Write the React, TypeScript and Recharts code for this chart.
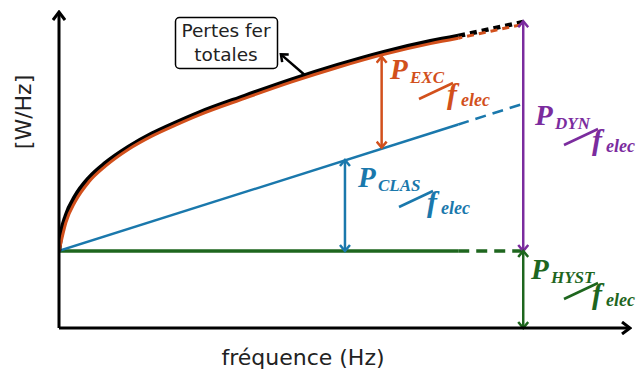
import { LineChart, Line, XAxis, YAxis, ReferenceLine } from 'recharts';

const ORANGE = '#D2501C';
const BLUE = '#1A78AC';
const GREEN = '#1E661E';
const PURPLE = '#7B2C9E';

// frequency (arbitrary units, 10 = end of the measured range) vs losses per cycle
const freq = [0, 0.05, 0.15, 0.35, 0.65, 1, 1.5, 2, 2.5, 3, 4, 5, 6, 7, 8, 8.6];
const totalLoss = [1.0, 1.24, 1.46, 1.71, 1.95, 2.14, 2.35, 2.52, 2.66, 2.79, 3.01, 3.22, 3.41, 3.58, 3.72, 3.79];
const excessLoss = [1.0, 1.13, 1.37, 1.64, 1.9, 2.1, 2.32, 2.49, 2.63, 2.76, 2.98, 3.19, 3.38, 3.55, 3.69, 3.76];
const freqExt = [8.6, 9.3, 10];
const totalExt = [3.79, 3.88, 3.97];
const excessExt = [3.76, 3.85, 3.94];

const linFreq = [0, 8.6];
const linFreqExt = [8.6, 10];
const classicalLoss = [1.0, 2.64];
const classicalExt = [2.64, 2.91];
const hystLoss = [1.0, 1.0];
const hystExt = [1.0, 1.0];

// double arrows: position, lower end, upper end
const arrowFreq = [6.95, 6.16, 10, 10];
const arrowLow = [2.34, 1.0, 1.0, 0];
const arrowHigh = [3.52, 2.18, 3.98, 1.0];
const arrowColor = [ORANGE, BLUE, PURPLE, GREEN];

// leader from the total curve to the "Pertes fer totales" box
const leaderFreq = [5.3, 4.78];
const leaderLoss = [3.28, 3.55];

const X_MAX = 12.3;
const Y_MAX = 4.1;

const rows = (xs: number[], ys: number[]) => xs.map((f, i) => ({ f, v: ys[i] }));

const mid = (c: string) => `head-${c.slice(1)}`;

const arrowShape = (color: string, width: number, both: boolean) => (p: any) => (
  <line
    x1={p.x1}
    y1={p.y1}
    x2={p.x2}
    y2={p.y2}
    stroke={color}
    strokeWidth={width}
    markerEnd={`url(#${mid(color)})`}
    markerStart={both ? `url(#${mid(color)})` : undefined}
  />
);

function Head({ color, big }: { color: string; big?: boolean }) {
  const w = big ? 12 : 10;
  const h = big ? 14 : 12;
  return (
    <marker
      id={mid(color)}
      viewBox={`0 0 ${w} ${h}`}
      refX={w - 2}
      refY={h / 2}
      markerWidth={w}
      markerHeight={h}
      markerUnits="userSpaceOnUse"
      orient="auto-start-reverse"
    >
      <path
        d={`M2,1 L${w - 2},${h / 2} L2,${h - 1}`}
        fill="none"
        stroke={color}
        strokeWidth={big ? 3 : 2.5}
      />
    </marker>
  );
}

function Ratio({ x, y, name, color, dx = 0 }: { x: number; y: number; name: string; color: string; dx?: number }) {
  const font = 'Liberation Serif, Times New Roman, serif';
  return (
    <g fill={color} fontFamily={font} fontWeight="bold" fontStyle="italic">
      <text x={x} y={y} fontSize={29}>P</text>
      <text x={x + 20} y={y + 4} fontSize={17}>{name}</text>
      <line x1={x + 29 + dx} y1={y + 20} x2={x + 63 + dx} y2={y + 4} stroke={color} strokeWidth={2.5} />
      <text x={x + 57 + dx} y={y + 25} fontSize={30}>f</text>
      <text x={x + 71 + dx} y={y + 27} fontSize={18}>elec</text>
    </g>
  );
}

export default function App() {
  return (
    <div style={{ position: 'absolute', left: 0, top: 0, width: 638, height: 376, background: '#fff' }}>
      <LineChart width={638} height={376} margin={{ top: 12, right: 8, bottom: 48, left: 59 }}>
        <XAxis type="number" dataKey="f" domain={[0, X_MAX]} hide allowDataOverflow />
        <YAxis type="number" dataKey="v" domain={[0, Y_MAX]} hide allowDataOverflow />

        <Line data={rows(linFreq, hystLoss)} dataKey="v" stroke={GREEN} strokeWidth={3.5} dot={false} isAnimationActive={false} />
        <Line data={rows(linFreqExt, hystExt)} dataKey="v" stroke={GREEN} strokeWidth={3.5} strokeDasharray="11 7" dot={false} isAnimationActive={false} />
        <Line data={rows(linFreq, classicalLoss)} dataKey="v" stroke={BLUE} strokeWidth={2.5} dot={false} isAnimationActive={false} />
        <Line data={rows(linFreqExt, classicalExt)} dataKey="v" stroke={BLUE} strokeWidth={2.5} strokeDasharray="11 7" dot={false} isAnimationActive={false} />

        <Line data={rows(freq, totalLoss)} dataKey="v" type="monotone" stroke="#000" strokeWidth={4.5} dot={false} isAnimationActive={false} />
        <Line data={rows(freqExt, totalExt)} dataKey="v" type="monotone" stroke="#000" strokeWidth={4.5} strokeDasharray="7 5" dot={false} isAnimationActive={false} />
        <Line data={rows(freq, excessLoss)} dataKey="v" type="monotone" stroke={ORANGE} strokeWidth={3} dot={false} isAnimationActive={false} />
        <Line data={rows(freqExt, excessExt)} dataKey="v" type="monotone" stroke={ORANGE} strokeWidth={3} strokeDasharray="7 5" strokeDashoffset={3} dot={false} isAnimationActive={false} />

        {arrowFreq.map((f, i) => (
          <ReferenceLine
            key={i}
            segment={[{ x: f, y: arrowLow[i] }, { x: f, y: arrowHigh[i] }]}
            shape={arrowShape(arrowColor[i], 2.5, true)}
          />
        ))}
        <ReferenceLine
          segment={[{ x: leaderFreq[0], y: leaderLoss[0] }, { x: leaderFreq[1], y: leaderLoss[1] }]}
          shape={arrowShape('#000001', 2.5, false)}
        />
        <ReferenceLine segment={[{ x: 0, y: 0 }, { x: X_MAX, y: 0 }]} shape={arrowShape('#000000', 3, false)} />
        <ReferenceLine segment={[{ x: 0, y: 0 }, { x: 0, y: Y_MAX }]} shape={arrowShape('#000000', 3, false)} />
      </LineChart>

      <svg width={638} height={376} style={{ position: 'absolute', left: 0, top: 0, pointerEvents: 'none' }}>
        <defs>
          {arrowColor.map((c) => (
            <Head key={c} color={c} />
          ))}
          <Head color="#000001" />
          <Head color="#000000" big />
        </defs>

        <rect x={175.5} y={17.5} width={102} height={51} rx={4} fill="#fff" stroke="#000" strokeWidth={1.5} />
        <g fontFamily="DejaVu Sans, Verdana, sans-serif" fontSize={18.5} fill="#222" textAnchor="middle">
          <text x={226} y={37}>Pertes fer</text>
          <text x={226} y={61}>totales</text>
        </g>

        <g fontFamily="DejaVu Sans, Verdana, sans-serif" fontSize={22} fill="#222" textAnchor="middle">
          <text x={303} y={365}>fréquence (Hz)</text>
          <text transform="translate(31,112) rotate(-90)">[W/Hz]</text>
        </g>

        <Ratio x={390} y={79} name="EXC" color={ORANGE} />
        <Ratio x={358} y={187} name="CLAS" color={BLUE} dx={12} />
        <Ratio x={535} y={125} name="DYN" color={PURPLE} />
        <Ratio x={531} y={279} name="HYST" color={GREEN} dx={4} />
      </svg>
    </div>
  );
}
